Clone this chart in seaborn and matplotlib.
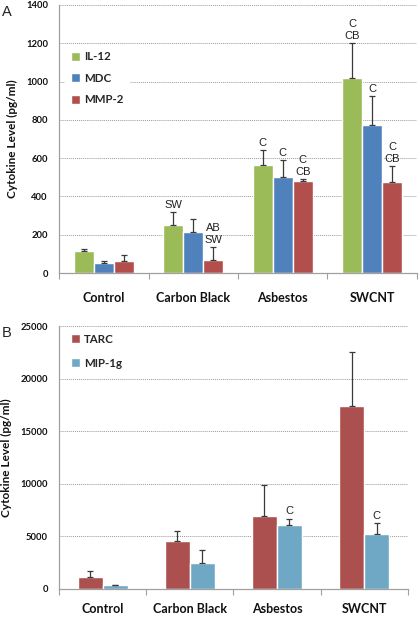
import pandas as pd
import seaborn as sns
import matplotlib.pyplot as plt

groups = ["Control", "Carbon Black", "Asbestos", "SWCNT"]

# panel A (pg/ml)
il12 = [114, 252, 564, 1017]
il12_err = [11, 65, 76, 183]
mdc = [52, 216, 503, 772]
mdc_err = [13, 68, 85, 153]
mmp2 = [64, 69, 482, 475]
mmp2_err = [29, 66, 11, 86]
notes_a = {"IL-12": ["", "SW", "C", "C\nCB"],
           "MDC": ["", "", "C", "C"],
           "MMP-2": ["", "AB\nSW", "C\nCB", "C\nCB"]}

# panel B (pg/ml)
tarc = [1110, 4560, 6900, 17380]
tarc_err = [630, 910, 2970, 5190]
mip1g = [340, 2500, 6100, 5220]
mip1g_err = [40, 1200, 600, 1080]
notes_b = {"TARC": ["", "", "", ""],
           "MIP-1g": ["", "", "C", "C"]}

sns.set_theme(style="white")
bold_font = ["Lato", "DejaVu Sans"]
plain_font = ["Liberation Sans", "DejaVu Sans"]

fig = plt.figure(figsize=(4.19, 6.17), dpi=100)
ax_a = fig.add_axes([0.141, 0.5575, 0.854, 0.4344])
ax_b = fig.add_axes([0.141, 0.0454, 0.832, 0.4262])


def panel(ax, series, errs, notes, colors, width, ymax, ystep, label, xpad, lab_x):
    rows = []
    for name, vals in series.items():
        for g, v in zip(groups, vals):
            rows.append({"group": g, "cytokine": name, "value": v})
    df = pd.DataFrame(rows)
    sns.barplot(data=df, x="group", y="value", hue="cytokine", order=groups,
                hue_order=list(series), palette=colors, width=width,
                errorbar=None, saturation=1, ax=ax, zorder=2)
    for cont, name in zip(ax.containers, series):
        for bar, err, note in zip(cont, errs[name], notes[name]):
            xc = bar.get_x() + bar.get_width() / 2
            top = bar.get_height()
            ax.errorbar(xc, top, yerr=[[0], [err]], fmt="none", ecolor="#3a3a3a",
                        elinewidth=0.9, capsize=2, capthick=0.9, zorder=3)
            if note:
                ax.annotate(note, (xc, top + err), xytext=(0, 1.5),
                            textcoords="offset points", ha="center", va="bottom",
                            fontsize=8, family=plain_font, color="#222222",
                            linespacing=1.25, zorder=4)
    ax.set_xlim(-0.5, 3.5)
    ax.set_ylim(0, ymax)
    ax.set_yticks(range(0, ymax + 1, ystep))
    ax.set_xticks([-0.5, 0.5, 1.5, 2.5, 3.5], minor=True)
    ax.tick_params(axis="x", which="minor", length=4, color="#a0a0a0", width=0.8,
                   direction="out", bottom=True)
    ax.tick_params(axis="x", which="major", length=0, pad=xpad)
    ax.tick_params(axis="y", length=0, pad=8)
    for t in ax.get_xticklabels():
        t.set_fontfamily(bold_font)
        t.set_fontweight("bold")
        t.set_fontsize(9)
        t.set_color("#111111")
    for t in ax.get_yticklabels():
        t.set_fontfamily(bold_font)
        t.set_fontweight("bold")
        t.set_fontsize(6.8)
        t.set_color("#111111")
    ax.yaxis.grid(True, linestyle=(0, (1, 1)), color="#9a9a9a", linewidth=0.7, zorder=0)
    ax.set_axisbelow(True)
    sns.despine(ax=ax)
    for s in ["left", "bottom"]:
        ax.spines[s].set_color("#a0a0a0")
        ax.spines[s].set_linewidth(0.9)
    ax.set_xlabel("")
    ax.set_ylabel("Cytokine Level (pg/ml)", fontfamily=bold_font, fontweight="bold",
                  fontsize=8.5, color="#111111", labelpad=6)
    ax.text(lab_x, 1.0, label, transform=ax.transAxes, fontsize=10.5,
            family=plain_font, va="top", ha="left", color="#222222")


panel(ax_a, {"IL-12": il12, "MDC": mdc, "MMP-2": mmp2},
      {"IL-12": il12_err, "MDC": mdc_err, "MMP-2": mmp2_err}, notes_a,
      ["#9bbb59", "#4f81bd", "#b24f4d"], 0.67, 1400, 200, "A", 14, -0.16)
panel(ax_b, {"TARC": tarc, "MIP-1g": mip1g},
      {"TARC": tarc_err, "MIP-1g": mip1g_err}, notes_b,
      ["#ab504e", "#6fa8c4"], 0.575, 25000, 5000, "B", 10, -0.165)

leg_a = ax_a.legend(loc="upper left", bbox_to_anchor=(0.0, 0.87), frameon=True,
                    facecolor="white", edgecolor="white", framealpha=1,
                    handlelength=0.8, handleheight=0.8, handletextpad=0.35,
                    labelspacing=0.9, borderpad=0.5,
                    prop={"family": bold_font, "weight": "bold", "size": 8.3})
leg_b = ax_b.legend(loc="upper left", bbox_to_anchor=(0.0, 1.015), frameon=False,
                    handlelength=0.8, handleheight=0.8, handletextpad=0.35,
                    labelspacing=1.15, borderpad=0.5,
                    prop={"family": bold_font, "weight": "bold", "size": 8.3})

fig.savefig("out.png", dpi=100)
